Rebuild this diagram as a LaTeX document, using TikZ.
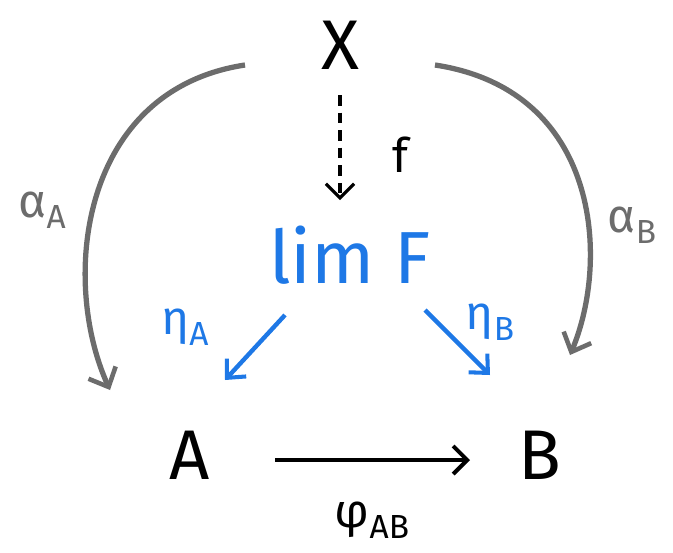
\documentclass[tikz,border=0pt]{standalone}
\usepackage{fontspec}
\setmainfont{Fira Sans}
\usetikzlibrary{arrows.meta, calc}
\newcommand{\lowsub}[1]{\raisebox{-0.45ex}{\fontsize{19}{21}\selectfont #1}}

\begin{document}
\begin{tikzpicture}[
    x=0.02cm, y=-0.02cm,
    obj/.style={inner sep=0pt, font=\fontsize{40}{44}\selectfont},
    lbl/.style={inner sep=0pt, font=\fontsize{27}{30}\selectfont},
    grayarrow/.style={line width=3pt, draw=gray!85!black, -{Straight Barb[length=9pt, width=17pt, line width=2.6pt]}},
    bluearrow/.style={line width=2.5pt, draw=blueline, -{Straight Barb[length=8pt, width=15pt, line width=2.3pt]}},
    blackarrow/.style={line width=2.5pt, -{Straight Barb[length=8pt, width=16pt, line width=2.3pt]}}
]
\definecolor{blueline}{RGB}{30,120,230}
\useasboundingbox (0,0) rectangle (673,552);
% objects
\node (X) [obj] at (340,45) {X};
\node (limF) [obj, text=blueline, font=\fontsize{42}{46}\selectfont] at (350,255) {lim F};
\node (A) [obj] at (190,455) {A};
\node (B) [obj] at (540,455) {B};
% labels
\node (f) [lbl] at (400,155) {f};
\node (alA) [lbl, text=gray!85!black] at (42,210) {α\lowsub{A}};
\node (alB) [lbl, text=gray!85!black] at (632,225) {α\lowsub{B}};
\node (etA) [lbl, text=blueline] at (185,327) {η\lowsub{A}};
\node (etB) [lbl, text=blueline] at (490,322) {η\lowsub{B}};
\node (phi) [lbl] at (372,520) {φ\lowsub{AB}};
% arrows
\draw [line width=1.8pt, dash pattern=on 6pt off 4pt, -{Straight Barb[length=8pt, width=16pt, line width=1.8pt]}]
    ([shift={(0,50)}]X.center) -- ([shift={(-10,-55)}]limF.center);
\draw [grayarrow] ([shift={(-95,20)}]X.center) .. controls (80,90) and (60,280) .. ([shift={(-80,-65)}]A.center);
\draw [grayarrow] ([shift={(95,20)}]X.center) .. controls (600,90) and (610,260) .. ([shift={(30,-100)}]B.center);
\draw [bluearrow] ([shift={(-65,60)}]limF.center) -- ([shift={(35,-75)}]A.center);
\draw [bluearrow] ([shift={(75,55)}]limF.center) -- ([shift={(-50,-80)}]B.center);
\draw [blackarrow] ([shift={(85,5)}]A.center) -- ([shift={(-70,5)}]B.center);
\end{tikzpicture}
\end{document}
